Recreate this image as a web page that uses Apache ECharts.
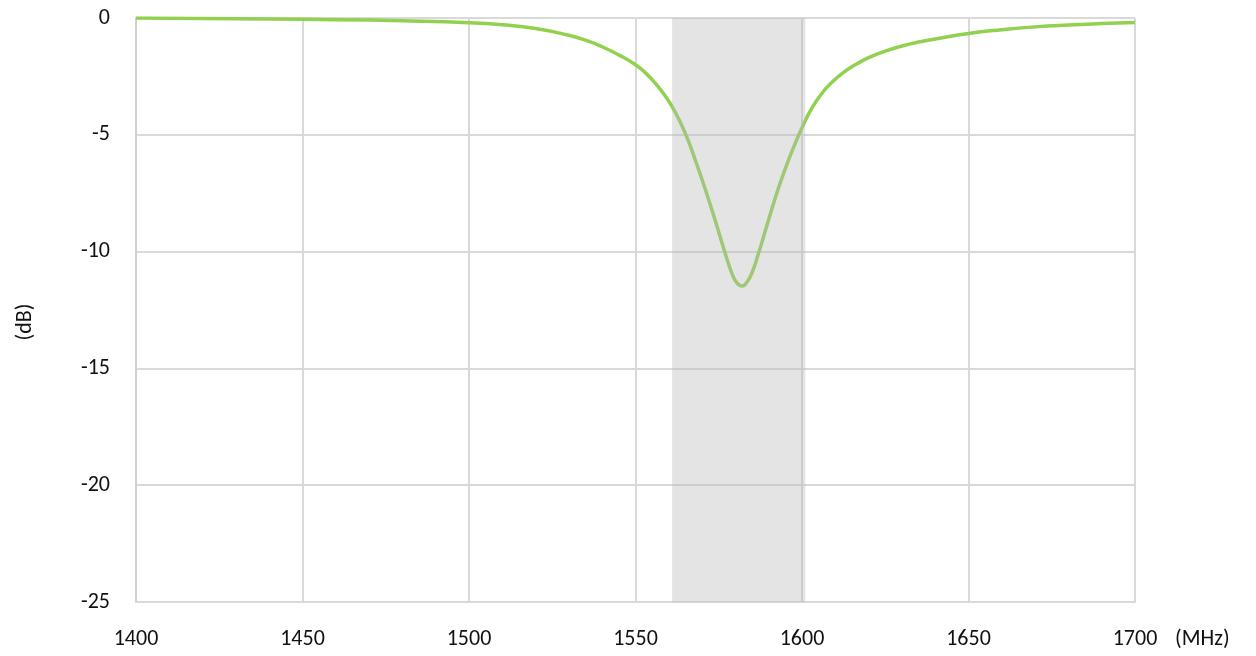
<!DOCTYPE html>
<html>
<head>
<meta charset="utf-8">
<script src="https://cdn.jsdelivr.net/npm/echarts@6/dist/echarts.min.js"></script>
<style>html,body{margin:0;padding:0;background:#fff}#c{width:1256px;height:656px}</style>
</head>
<body>
<div id="c"></div>
<script>
const freqs = [1400,1420,1440,1460,1480,1500,1510,1520,1530,1535,1540,1545,1550,1553,1556,1559,1562,1565,1568,1571,1574,1577,1579,1580.5,1582,1583.5,1585,1587,1589,1591,1593,1595,1597,1600,1603,1606,1609,1612,1616,1620,1625,1630,1635,1640,1650,1660,1670,1680,1690,1700];
const dB = [0,-0.02,-0.04,-0.07,-0.12,-0.2,-0.29,-0.45,-0.74,-0.95,-1.23,-1.58,-2.0,-2.35,-2.8,-3.35,-4.05,-4.95,-6.1,-7.35,-8.7,-10.1,-10.95,-11.35,-11.47,-11.3,-10.9,-10.05,-9.1,-8.15,-7.25,-6.45,-5.7,-4.7,-3.85,-3.22,-2.75,-2.38,-2.0,-1.7,-1.42,-1.2,-1.03,-0.9,-0.66,-0.5,-0.38,-0.3,-0.24,-0.19];
const band = [1561, 1601];
const xTicks = [1400,1450,1500,1550,1600,1650,1700];
const yTicks = [0,-5,-10,-15,-20,-25];

const FONT = 'Carlito, Lato, "Liberation Sans", sans-serif';
const yMin = yTicks[yTicks.length-1], yMax = yTicks[0];
const chart = echarts.init(document.getElementById('c'), null, {renderer:'canvas'});
chart.setOption({
  animation: false,
  grid: {left:136, right:121, top:18, bottom:54, containLabel:false},
  xAxis: {
    type:'value', min:xTicks[0], max:xTicks[xTicks.length-1], interval:50,
    name:'(MHz)', nameLocation:'end', nameGap:40, nameMoveOverlap:false,
    nameTextStyle:{color:'#111', fontSize:22, fontFamily:FONT, verticalAlign:'top', padding:[26,0,0,0]},
    axisLine:{show:true, onZero:false, lineStyle:{color:'#d9d9d9', width:2}},
    axisTick:{show:false},
    axisLabel:{color:'#111', fontSize:22, fontFamily:FONT, margin:26, formatter:v=>String(v)},
    splitLine:{show:true, lineStyle:{color:'#d9d9d9', width:2}}
  },
  yAxis: {
    type:'value', min:yMin, max:yMax, interval:5,
    name:'(dB)', nameLocation:'middle', nameGap:100, nameRotate:90,
    nameTextStyle:{color:'#111', fontSize:22, fontFamily:FONT, padding:[0,24,0,0]},
    axisLine:{show:true, onZero:false, lineStyle:{color:'#d0d0d0', width:2}},
    axisTick:{show:false},
    axisLabel:{color:'#111', fontSize:22, fontFamily:FONT, margin:26, formatter:v=>String(v)},
    splitLine:{show:true, lineStyle:{color:'#d9d9d9', width:2}}
  },
  series: [
    {
      type:'line', z:2, smooth:0.5, showSymbol:false,
      data: freqs.map((f,i)=>[f,dB[i]]),
      lineStyle:{color:'#92D050', width:3.5},
      itemStyle:{color:'#92D050'}
    },
    {
      type:'custom', z:10, silent:true,
      data:[[band[0], band[1]]],
      renderItem:(params, api)=>{
        const p0 = api.coord([api.value(0), yMax]);
        const p1 = api.coord([api.value(1), yMin]);
        return {type:'rect', shape:{x:p0[0], y:p0[1], width:p1[0]-p0[0], height:p1[1]-p0[1]},
                style:{fill:'rgba(183,183,183,0.38)'}};
      }
    }
  ]
});
</script>
</body>
</html>
